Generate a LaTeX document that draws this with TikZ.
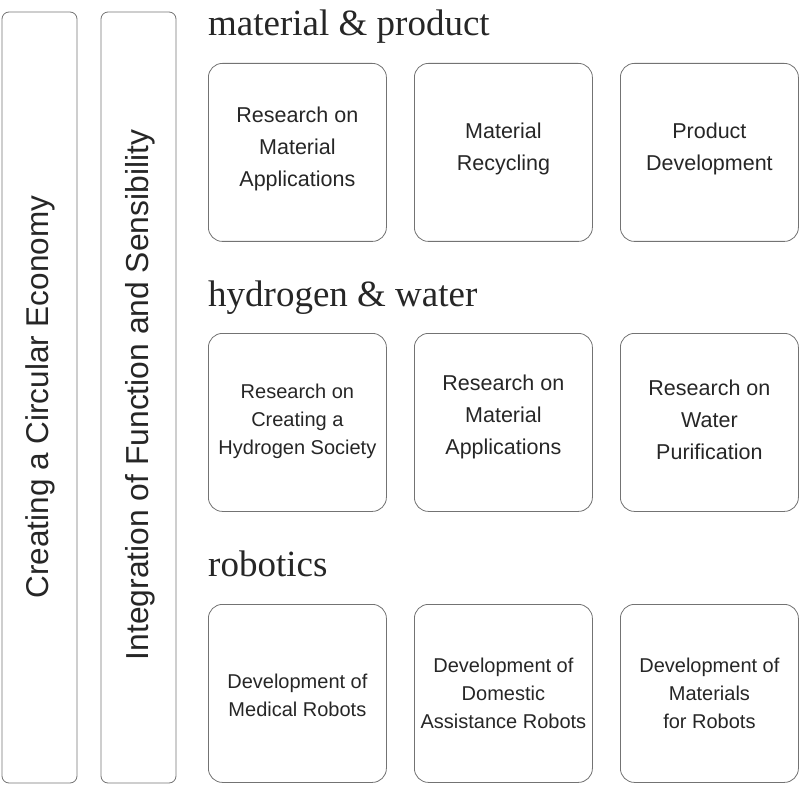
\documentclass[tikz,border=0pt]{standalone}
\usepackage{fontspec}
\setmainfont{Liberation Sans}
\newfontfamily\headfont{Liberation Serif}
\begin{document}
\begin{tikzpicture}[x=1pt,y=-1pt,
  bar/.style={draw=black!55,line width=0.8pt,rounded corners=7pt},
  cell/.style={draw=black!55,line width=0.8pt,rounded corners=14pt,minimum width=178pt,minimum height=178pt,anchor=north west},
  celltext/.style={align=center,font=\fontsize{21.5}{32}\selectfont,text=black!85},
  smalltext/.style={align=center,font=\fontsize{20}{28}\selectfont,text=black!85},
  head/.style={anchor=base west,font=\headfont\fontsize{37}{40}\selectfont,text=black!85,inner sep=0pt}]
\useasboundingbox (0,0) rectangle (800,786);
\draw[bar] (2,12) rectangle (77,783);
\draw[bar] (101,12) rectangle (176,783);
\node[rotate=90,font=\fontsize{31.5}{34}\selectfont,text=black!85] (v1) at (40,397) {Creating a Circular Economy};
\node[rotate=90,font=\fontsize{31.8}{34}\selectfont,text=black!85] (v2) at (140,395) {Integration of Function and Sensibility};
\node[head] (h1) at (208,36) {material \& product};
\node[head] (h2) at (208,306) {hydrogen \& water};
\node[head] (h3) at (208,576) {robotics};
\foreach \c/\x in {a/208,b/414,c/620}{
  \foreach \r/\y in {1/63,2/333,3/604}{
    \node[cell] (\c\r) at (\x,\y) {};
  }
}
\node[celltext] at ([yshift=3]a1) {Research on\\Material\\Applications};
\node[celltext] at ([yshift=3]b1) {Material\\Recycling};
\node[celltext] at ([yshift=3]c1) {Product\\Development};
\node[smalltext] at ([yshift=1]a2) {Research on\\Creating a\\Hydrogen Society};
\node[celltext] at ([yshift=5]b2) {Research on\\Material\\Applications};
\node[celltext] at ([yshift=3]c2) {Research on\\Water\\Purification};
\node[smalltext] at ([yshift=-2]a3) {Development of\\Medical Robots};
\node[smalltext] at (b3) {Development of\\Domestic\\Assistance Robots};
\node[smalltext] at (c3) {Development of\\Materials\\for Robots};
\end{tikzpicture}
\end{document}
